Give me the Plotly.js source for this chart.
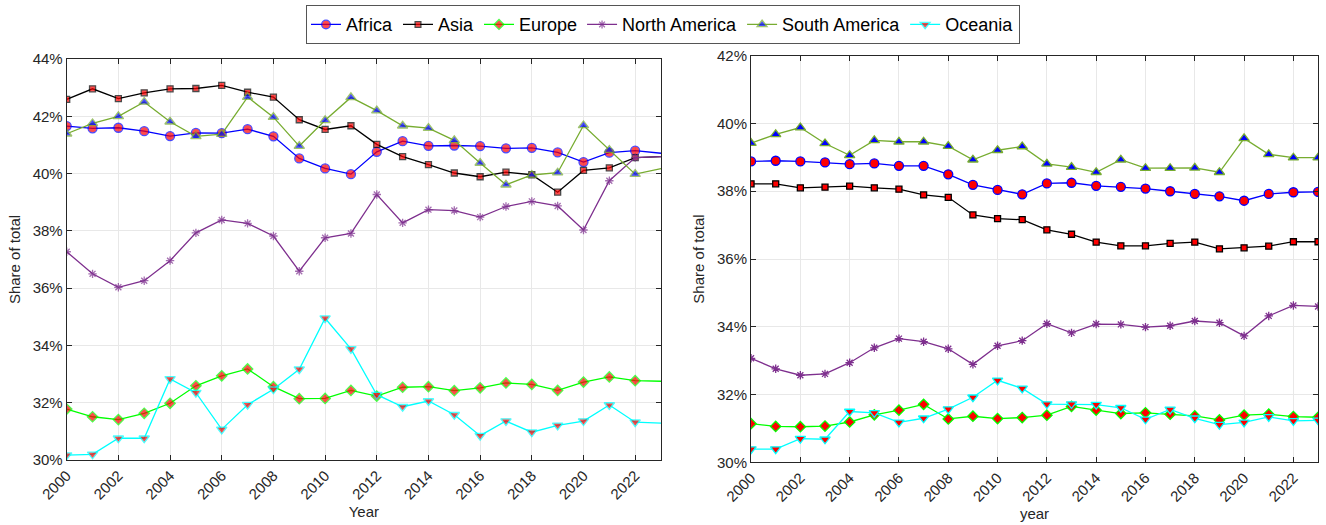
<!DOCTYPE html>
<html>
<head>
<meta charset="utf-8">
<script src="https://cdn.plot.ly/plotly-3.0.1.min.js"></script>
<style>html,body{margin:0;padding:0;background:#fff}#chart{width:1326px;height:525px}</style>
</head>
<body>
<div id="chart"></div>
<script>
// ---- data ----
const regions = ["Africa","Asia","Europe","North America","South America","Oceania"];
const yearsLeft = [2000,2001,2002,2003,2004,2005,2006,2007,2008,2009,2010,2011,2012,2013,2014,2015,2016,2017,2018,2019,2020,2021,2022,2023];
const yearsRight = [2000,2001,2002,2003,2004,2005,2006,2007,2008,2009,2010,2011,2012,2013,2014,2015,2016,2017,2018,2019,2020,2021,2022,2023];

// Left panel (Year)
const africaL  = [41.66,41.58,41.60,41.48,41.31,41.42,41.41,41.55,41.30,40.53,40.18,39.98,40.76,41.13,40.97,40.98,40.96,40.88,40.90,40.74,40.40,40.73,40.80,40.71];
const asiaL    = [42.59,42.96,42.62,42.82,42.96,42.97,43.08,42.84,42.67,41.88,41.54,41.67,41.02,40.59,40.31,40.02,39.89,40.05,39.96,39.35,40.11,40.20,40.56,40.59];
const europeL  = [31.78,31.51,31.41,31.63,31.98,32.59,32.94,33.18,32.56,32.14,32.15,32.43,32.23,32.54,32.56,32.42,32.52,32.69,32.64,32.43,32.72,32.90,32.77,32.75];
const northAmL = [37.27,36.50,36.03,36.26,36.96,37.93,38.38,38.26,37.82,36.59,37.76,37.91,39.27,38.28,38.74,38.71,38.48,38.85,39.03,38.87,38.03,39.75,40.56,40.59];
const southAmL = [41.39,41.75,42.00,42.50,41.81,41.30,41.38,42.67,41.97,40.96,41.86,42.66,42.20,41.67,41.59,41.16,40.37,39.61,39.95,40.03,41.68,40.82,39.98,40.17];
const oceaniaL = [30.17,30.20,30.76,30.76,32.83,32.35,31.07,31.93,32.47,33.17,34.95,33.88,32.28,31.86,32.06,31.58,30.85,31.36,30.97,31.21,31.36,31.92,31.32,31.29];

// Right panel (year)
const africaR  = [38.88,38.90,38.88,38.85,38.80,38.82,38.75,38.75,38.50,38.19,38.04,37.91,38.23,38.25,38.16,38.13,38.08,38.00,37.92,37.85,37.72,37.92,37.97,37.98];
const asiaR    = [38.22,38.22,38.10,38.12,38.15,38.10,38.06,37.89,37.82,37.30,37.19,37.16,36.86,36.73,36.50,36.39,36.39,36.46,36.50,36.30,36.33,36.38,36.51,36.51];
const europeR  = [31.14,31.06,31.05,31.07,31.19,31.40,31.54,31.71,31.28,31.36,31.29,31.32,31.39,31.65,31.54,31.44,31.46,31.42,31.37,31.25,31.39,31.42,31.35,31.33];
const northAmR = [33.07,32.76,32.57,32.61,32.94,33.38,33.65,33.56,33.35,32.89,33.44,33.59,34.09,33.82,34.08,34.07,33.99,34.03,34.17,34.12,33.73,34.32,34.63,34.60];
const southAmR = [39.42,39.68,39.88,39.41,39.06,39.50,39.46,39.46,39.33,38.93,39.21,39.32,38.81,38.71,38.56,38.93,38.68,38.68,38.69,38.56,39.56,39.09,38.99,38.99];
const oceaniaR = [30.39,30.39,30.70,30.68,31.50,31.46,31.18,31.30,31.57,31.92,32.42,32.18,31.72,31.72,31.70,31.61,31.27,31.56,31.30,31.11,31.18,31.34,31.22,31.24];

const xTickVals = [2000,2002,2004,2006,2008,2010,2012,2014,2016,2018,2020,2022];

// ---- styles ----
const styles = {
  "Africa":        {line:"#0000ff", symbol:"circle",        fill:"#ff0000", edge:"#0000ff", size:9},
  "Asia":          {line:"#000000", symbol:"square",        fill:"#ff0000", edge:"#000000", size:6},
  "Europe":        {line:"#00ff00", symbol:"diamond",       fill:"#ff0000", edge:"#00ff00", size:8},
  "North America": {line:"#7e2f8e", symbol:"asterisk-open", fill:"#7e2f8e", edge:"#7e2f8e", size:7},
  "South America": {line:"#77ac30", symbol:"triangle-up",   fill:"#0000ff", edge:"#77ac30", size:9},
  "Oceania":       {line:"#00ffff", symbol:"triangle-down", fill:"#ff0000", edge:"#00ffff", size:9}
};

const leftData = [africaL, asiaL, europeL, northAmL, southAmL, oceaniaL];
const rightData = [africaR, asiaR, europeR, northAmR, southAmR, oceaniaR];

const traces = [];
regions.forEach((r, i) => {
  const s = styles[r];
  // left: markers up to 2022, line continues to 2023
  const sizesL = yearsLeft.map(y => y <= 2022 ? s.size : 0);
  traces.push({
    x: yearsLeft, y: leftData[i], name: r, type: "scatter", mode: "lines+markers",
    xaxis: "x", yaxis: "y", showlegend: true, legendgroup: r,
    line: {color: s.line, width: 1.3},
    marker: {symbol: s.symbol, size: sizesL, color: s.fill, line: {color: s.edge, width: 1.3}},
    hoverinfo: "skip"
  });
});
regions.forEach((r, i) => {
  const s = styles[r];
  traces.push({
    x: yearsRight, y: rightData[i], name: r, type: "scatter", mode: "lines+markers",
    xaxis: "x2", yaxis: "y2", showlegend: false, legendgroup: r,
    line: {color: s.line, width: 1.3},
    marker: {symbol: s.symbol, size: s.size, color: s.fill, line: {color: s.edge, width: 1.3}},
    hoverinfo: "skip"
  });
});

const tickFont = {family: "Liberation Sans, Arial, sans-serif", size: 15, color: "#262626"};
const titleFont = {family: "Liberation Sans, Arial, sans-serif", size: 15, color: "#262626"};

function xaxisDef(domain, title, anchor) {
  return {
    domain: domain, anchor: anchor, range: [2000, 2023],
    tickvals: xTickVals, tickangle: -45, tickfont: tickFont,
    ticks: "inside", ticklen: 5, tickcolor: "#262626",
    showline: true, linecolor: "#262626", linewidth: 1, mirror: "ticks",
    showgrid: true, gridcolor: "#e8e8e8", gridwidth: 1, zeroline: false,
    title: {text: title, font: titleFont, standoff: 4}, automargin: false
  };
}
function yaxisDef(domain, range, anchor) {
  return {
    domain: domain, anchor: anchor, range: range, dtick: 2, ticksuffix: "%",
    tickfont: tickFont, ticks: "inside", ticklen: 5, tickcolor: "#262626",
    showline: true, linecolor: "#262626", linewidth: 1, mirror: "ticks",
    showgrid: true, gridcolor: "#e8e8e8", gridwidth: 1, zeroline: false,
    title: {text: "Share of total", font: titleFont, standoff: 8}, automargin: false
  };
}

const layout = {
  width: 1326, height: 525,
  margin: {l: 0, r: 0, t: 0, b: 0},
  paper_bgcolor: "#ffffff", plot_bgcolor: "#ffffff",
  font: {family: "Liberation Sans, Arial, sans-serif", color: "#262626"},
  xaxis: xaxisDef([0.0503, 0.4985], "Year", "y"),
  yaxis: yaxisDef([0.1238, 0.8876], [30, 44], "x"),
  xaxis2: xaxisDef([0.5664, 0.9940], "year", "y2"),
  yaxis2: yaxisDef([0.1194, 0.8939], [30, 42], "x2"),
  legend: {
    orientation: "h", x: 0.5, xanchor: "center", y: 0.99, yanchor: "top",
    font: {family: "Liberation Sans, Arial, sans-serif", size: 18, color: "#000"},
    bordercolor: "#555555", borderwidth: 1, bgcolor: "#ffffff",
    tracegroupgap: 0
  },
  showlegend: true
};

Plotly.newPlot("chart", traces, layout, {staticPlot: true, displayModeBar: false});
</script>
</body>
</html>
